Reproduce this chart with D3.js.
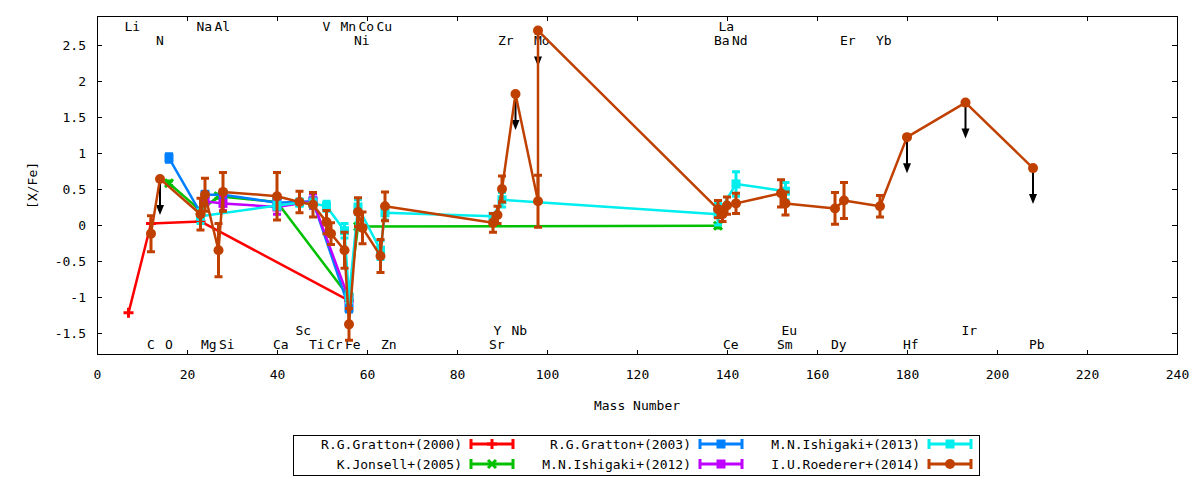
<!DOCTYPE html>
<html>

<head>
    <meta charset="UTF-8">
    <title>[X/Fe] vs Mass Number</title>
    <script src="https://d3js.org/d3.v7.min.js"></script>
    <style>
        body {
            margin: 0;
            background: #fff;
        }

        svg text {
            font-family: "DejaVu Sans Mono", "Liberation Mono", monospace;
            font-size: 13px;
            fill: #000;
        }
    </style>
</head>

<body>
    <div id="chart"></div>
    <script>
        // element symbols, mass numbers and the height their label is written at
        const elementNames = ["Li", "C", "N", "O", "Na", "Mg", "Al", "Si", "Ca", "Sc", "Ti", "V", "Cr", "Mn", "Fe", "Ni", "Co", "Cu", "Zn",
            "Sr", "Y", "Zr", "Nb", "Mo", "Ba", "La", "Ce", "Nd", "Sm", "Eu", "Dy", "Er", "Yb", "Hf", "Ir", "Pb"];
        const massNumbers = [7, 12, 14, 16, 23, 24, 27, 28, 40, 45, 48, 51, 52, 55, 56, 58, 59, 63, 64,
            88, 89, 90, 93, 98, 138, 139, 140, 142, 152, 153, 164, 166, 174, 180, 193, 208];
        const labelHeights = [2.755, -1.66, 2.56, -1.66, 2.755, -1.66, 2.755, -1.66, -1.66, -1.47, -1.66, 2.755, -1.66, 2.755, -1.66, 2.56, 2.755, 2.755, -1.66,
            -1.66, -1.47, 2.56, -1.47, 2.56, 2.56, 2.755, -1.66, 2.56, -1.66, -1.47, -1.66, 2.56, 2.56, -1.66, -1.47, -1.66];

        const gratton2000Elements = ["Li", "C", "Na", "Fe"];
        const gratton2000Values = [-1.22, 0.02, 0.05, -1.05];
        const gratton2000Errors = [0, 0, 0, 0];

        const jonsell2005Elements = ["O", "Na", "Al", "Ca", "Fe", "Ni", "Ba"];
        const jonsell2005Values = [0.58, 0.2, 0.4, 0.32, -1.0, -0.02, -0.01];
        const jonsell2005Errors = [0.03, 0.03, 0.03, 0.03, 0.03, 0.03, 0.03];

        const gratton2003Elements = ["O", "Na", "Mg", "Si", "Ca", "Ti", "Fe"];
        const gratton2003Values = [0.93, 0.17, 0.42, 0.42, 0.31, 0.33, -1.15];
        const gratton2003Errors = [0.06, 0.05, 0.05, 0.05, 0.05, 0.05, 0.06];

        const ishigaki2012Elements = ["Mg", "Si", "Ca", "Ti", "Fe"];
        const ishigaki2012Values = [0.33, 0.3, 0.25, 0.33, -1.03];
        const ishigaki2012Errors = [0.05, 0.1, 0.1, 0.1, 0.05];

        const ishigaki2013Elements = ["Na", "Ca", "Sc", "Ti", "V", "Mn", "Fe", "Ni", "Cu", "Zn", "Sr", "Zr", "Ba", "Nd", "Eu"];
        const ishigaki2013Values = [0.12, 0.27, 0.31, 0.3, 0.26, -0.08, -1.0, 0.25, -0.35, 0.17, 0.12, 0.35, 0.15, 0.57, 0.47];
        const ishigaki2013Errors = [0.1, 0.05, 0.05, 0.06, 0.07, 0.1, 0.08, 0.1, 0.13, 0.1, 0.04, 0.1, 0.15, 0.17, 0.12];

        const roedererElements = ["C", "N", "Na", "Mg", "Al", "Si", "Ca", "Sc", "Ti", "V", "Cr", "Mn", "Fe", "Ni", "Co", "Cu", "Zn",
            "Sr", "Y", "Zr", "Nb", "Mo", "Mo", "Ba", "La", "Ce", "Nd", "Sm", "Eu", "Dy", "Er", "Yb", "Hf", "Ir", "Pb"];
        const roedererValues = [-0.12, 0.64, 0.15, 0.42, -0.35, 0.46, 0.4, 0.32, 0.28, 0.04, -0.12, -0.35, -1.38, 0.18, -0.04, -0.43, 0.26,
            0.03, 0.14, 0.5, 1.82, 0.33, 2.7, 0.22, 0.15, 0.27, 0.3, 0.44, 0.3, 0.23, 0.34, 0.26, 1.22, 1.7, 0.79];
        const roedererErrors = [0.25, 0, 0.22, 0.23, 0.37, 0.27, 0.33, 0.15, 0.17, 0.16, 0.15, 0.25, 0.22, 0.2, 0.22, 0.23, 0.2,
            0.13, 0.12, 0.18, 0, 0.36, 0, 0.12, 0.1, 0.12, 0.14, 0.19, 0.16, 0.22, 0.25, 0.15, 0, 0, 0];
        // 1 = upper limit, drawn with a down arrow
        const roedererLimits = [0, 1, 0, 0, 0, 0, 0, 0, 0, 0, 0, 0, 0, 0, 0, 0, 0,
            0, 0, 0, 1, 0, 1, 0, 0, 0, 0, 0, 0, 0, 0, 0, 1, 1, 1];
        const limitArrowLength = 0.5;

        const xTicks = [0, 20, 40, 60, 80, 100, 120, 140, 160, 180, 200, 220, 240];
        const yTicks = [-1.5, -1, -0.5, 0, 0.5, 1, 1.5, 2, 2.5];

        function massOf(el) {
            return massNumbers[elementNames.indexOf(el)];
        }

        function makeSeries(name, color, symbol, elements, values, errors, limits) {
            return {
                name: name, color: color, symbol: symbol,
                points: elements.map((el, i) => ({
                    mass: massOf(el), value: values[i], err: errors[i], limit: limits ? limits[i] : 0
                }))
            };
        }

        // same order as the plot command, so the legend fills column by column
        const series = [
            makeSeries("R.G.Gratton+(2000)", "#ff0000", "plus", gratton2000Elements, gratton2000Values, gratton2000Errors),
            makeSeries("K.Jonsell+(2005)", "#00c000", "cross", jonsell2005Elements, jonsell2005Values, jonsell2005Errors),
            makeSeries("R.G.Gratton+(2003)", "#0080ff", "square", gratton2003Elements, gratton2003Values, gratton2003Errors),
            makeSeries("M.N.Ishigaki+(2012)", "#c000ff", "square", ishigaki2012Elements, ishigaki2012Values, ishigaki2012Errors),
            makeSeries("M.N.Ishigaki+(2013)", "#00eeee", "square", ishigaki2013Elements, ishigaki2013Values, ishigaki2013Errors),
            makeSeries("I.U.Roederer+(2014)", "#c04000", "circle", roedererElements, roedererValues, roedererErrors, roedererLimits)
        ];

        const width = 1200;
        const height = 480;
        const plotLeft = 97, plotRight = 1177, plotTop = 16.2, plotBottom = 354.6;

        const svg = d3.select('#chart')
            .append('svg')
            .attr('width', width)
            .attr('height', height);

        const xScale = d3.scaleLinear().domain([0, 240]).range([plotLeft, plotRight]);
        const yScale = d3.scaleLinear().domain([-1.8, 2.9]).range([plotBottom, plotTop]);

        // axes with inward ticks, mirrored on top and right
        function styleAxis(g) {
            g.select('.domain').remove();
            g.selectAll('.tick line').attr('stroke', '#000').attr('shape-rendering', 'crispEdges');
            g.selectAll('.tick text').attr('font-family', null).attr('font-size', null);
        }
        svg.append('g')
            .attr('transform', 'translate(0,' + plotBottom + ')')
            .call(d3.axisBottom(xScale).tickValues(xTicks).tickSizeInner(-5).tickSizeOuter(0).tickPadding(15).tickFormat(d => String(d)))
            .call(styleAxis);
        svg.append('g')
            .attr('transform', 'translate(0,' + plotTop + ')')
            .call(d3.axisTop(xScale).tickValues(xTicks).tickSizeInner(-5).tickSizeOuter(0).tickFormat(''))
            .call(styleAxis);
        svg.append('g')
            .attr('transform', 'translate(' + plotLeft + ',0)')
            .call(d3.axisLeft(yScale).tickValues(yTicks).tickSizeInner(-5).tickSizeOuter(0).tickPadding(11).tickFormat(d => String(d)))
            .call(styleAxis);
        svg.append('g')
            .attr('transform', 'translate(' + plotRight + ',0)')
            .call(d3.axisRight(yScale).tickValues(yTicks).tickSizeInner(-5).tickSizeOuter(0).tickFormat(''))
            .call(styleAxis);

        svg.append('rect')
            .attr('x', plotLeft).attr('y', plotTop)
            .attr('width', plotRight - plotLeft).attr('height', plotBottom - plotTop)
            .attr('fill', 'none').attr('stroke', '#000')
            .attr('shape-rendering', 'crispEdges');

        svg.append('text')
            .attr('x', (plotLeft + plotRight) / 2)
            .attr('y', 405)
            .attr('text-anchor', 'middle')
            .attr('dominant-baseline', 'central')
            .text('Mass Number');

        svg.append('text')
            .attr('transform', 'translate(32,' + (plotTop + plotBottom) / 2 + ') rotate(-90)')
            .attr('text-anchor', 'middle')
            .attr('dominant-baseline', 'central')
            .text('[X/Fe]');

        // element labels sit behind the data
        svg.append('g').selectAll('text')
            .data(elementNames)
            .join('text')
            .attr('x', (d, i) => xScale(massNumbers[i]) - 4)
            .attr('y', (d, i) => yScale(labelHeights[i]))
            .attr('dominant-baseline', 'central')
            .text(d => d);

        // upper limit arrows
        const limitPoints = series[5].points.filter(p => p.limit);
        const arrows = svg.append('g');
        limitPoints.forEach(p => {
            const x = xScale(p.mass);
            const y1 = yScale(p.value);
            const y2 = yScale(p.value - limitArrowLength);
            arrows.append('line')
                .attr('x1', x).attr('x2', x)
                .attr('y1', y1).attr('y2', y2 - 8)
                .attr('stroke', '#000').attr('stroke-width', 2);
            arrows.append('path')
                .attr('d', 'M' + (x - 4) + ',' + (y2 - 10) + 'L' + (x + 4) + ',' + (y2 - 10) + 'L' + x + ',' + y2 + 'Z')
                .attr('fill', '#000');
        });

        function drawMarker(g, symbol, color, x, y) {
            if (symbol === 'plus') {
                g.append('path')
                    .attr('d', 'M' + (x - 5) + ',' + y + 'H' + (x + 5) + 'M' + x + ',' + (y - 5) + 'V' + (y + 5))
                    .attr('stroke', color).attr('stroke-width', 3).attr('fill', 'none');
            } else if (symbol === 'cross') {
                g.append('path')
                    .attr('d', 'M' + (x - 4) + ',' + (y - 4) + 'L' + (x + 4) + ',' + (y + 4) + 'M' + (x - 4) + ',' + (y + 4) + 'L' + (x + 4) + ',' + (y - 4))
                    .attr('stroke', color).attr('stroke-width', 3).attr('fill', 'none');
            } else if (symbol === 'square') {
                g.append('rect')
                    .attr('x', x - 4.5).attr('y', y - 4.5)
                    .attr('width', 9).attr('height', 9)
                    .attr('fill', color);
            } else {
                g.append('circle')
                    .attr('cx', x).attr('cy', y).attr('r', 5)
                    .attr('fill', color);
            }
        }

        const line = d3.line()
            .x(d => xScale(d.mass))
            .y(d => yScale(d.value));

        series.forEach(s => {
            const g = svg.append('g');
            g.append('path')
                .datum(s.points)
                .attr('fill', 'none')
                .attr('stroke', s.color)
                .attr('stroke-width', 2.5)
                .attr('stroke-linejoin', 'round')
                .attr('d', line);

            s.points.forEach(p => {
                const x = xScale(p.mass);
                if (p.err > 0) {
                    const yLo = yScale(p.value - p.err);
                    const yHi = yScale(p.value + p.err);
                    g.append('path')
                        .attr('d', 'M' + x + ',' + yLo + 'V' + yHi +
                            'M' + (x - 4) + ',' + yLo + 'H' + (x + 4) +
                            'M' + (x - 4) + ',' + yHi + 'H' + (x + 4))
                        .attr('stroke', s.color).attr('stroke-width', 3).attr('fill', 'none');
                }
                drawMarker(g, s.symbol, s.color, x, yScale(p.value));
            });
        });

        // legend
        const legend = svg.append('g');
        legend.append('rect')
            .attr('x', 293).attr('y', 435)
            .attr('width', 686).attr('height', 40)
            .attr('fill', '#fff').attr('stroke', '#000')
            .attr('shape-rendering', 'crispEdges');

        series.forEach((s, i) => {
            const col = Math.floor(i / 2);
            const row = i % 2;
            const y = 444 + row * 20;
            const x1 = 471 + col * 229;
            const x2 = 513 + col * 229;
            legend.append('text')
                .attr('x', 462 + col * 229)
                .attr('y', y)
                .attr('text-anchor', 'end')
                .attr('dominant-baseline', 'central')
                .text(s.name);
            legend.append('path')
                .attr('d', 'M' + x1 + ',' + y + 'H' + x2 +
                    'M' + x1 + ',' + (y - 5) + 'V' + (y + 5) +
                    'M' + x2 + ',' + (y - 5) + 'V' + (y + 5))
                .attr('stroke', s.color).attr('stroke-width', 3).attr('fill', 'none');
            drawMarker(legend, s.symbol, s.color, (x1 + x2) / 2, y);
        });
    </script>
</body>

</html>
